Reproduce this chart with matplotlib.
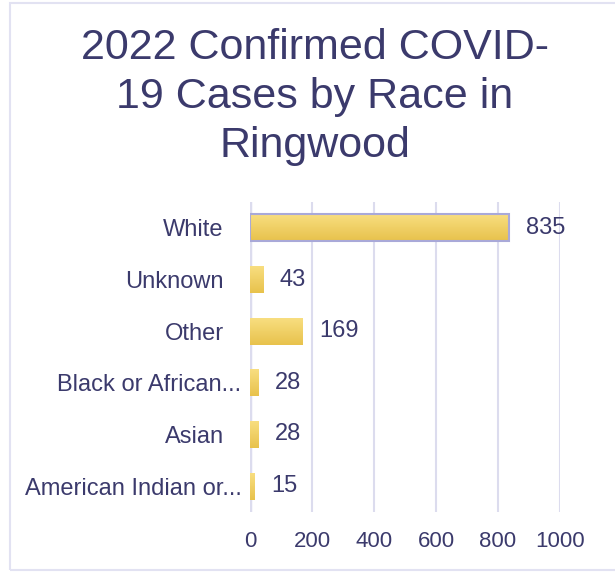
import numpy as np
import matplotlib.pyplot as plt
import matplotlib.transforms as mtransforms
from matplotlib.patches import Rectangle
from matplotlib.colors import LinearSegmentedColormap

races = ['White', 'Unknown', 'Other', 'Black or African...', 'Asian', 'American Indian or...']
cases = [835, 43, 169, 28, 28, 15]
x_ticks = [0, 200, 400, 600, 800, 1000]

text_color = '#3b3a6c'
grid_color = '#dcdcee'

plt.rcParams['font.family'] = ['Liberation Sans', 'DejaVu Sans']

fig = plt.figure(figsize=(6.15, 5.74), dpi=100)
ax = fig.add_axes([250 / 615, 62 / 574, 310 / 615, 310 / 574])

# Outer frame of the card
fig.patches.append(Rectangle((10 / 615, 4 / 574), 1.0, 567 / 574, transform=fig.transFigure,
                             fill=False, edgecolor='#e2e2f2', linewidth=1.5))

y = np.arange(len(races))
bars = ax.barh(y, cases, height=0.52, color='#f0cd5e', zorder=3)

# vertical gradient inside each bar
grad = np.linspace(0, 1, 64).reshape(-1, 1)
cmap = LinearSegmentedColormap.from_list('gold', ['#f8de80', '#e8c24c'])
for b in bars:
    x0, y0 = b.get_x(), b.get_y()
    w, h = b.get_width(), b.get_height()
    im = ax.imshow(grad, cmap=cmap, aspect='auto', extent=[x0, x0 + w, y0 + h, y0], zorder=4)
    im.set_clip_path(b)

# highlighted first bar outline
bars[0].set_edgecolor('#a9a9d8')
bars[0].set_linewidth(1.5)
bars[0].set_zorder(5)
bars[0].set_facecolor('none')

for yi, v in zip(y, cases):
    ax.annotate(str(v), (v, yi), xytext=(12, 0), textcoords='offset points',
                va='center', ha='left', fontsize=17, color=text_color)

ax.set_xlim(0, 1000)
ax.set_ylim(len(races) - 0.5, -0.5)
ax.set_xticks(x_ticks)
ax.set_xticklabels([str(t) for t in x_ticks], fontsize=16, color=text_color)
ax.set_yticks(y)
ax.set_yticklabels(races, fontsize=17, color=text_color)
ax.tick_params(axis='both', length=0)
ax.tick_params(axis='y', pad=19)
ax.tick_params(axis='x', pad=14)
ax.grid(axis='x', color=grid_color, linewidth=1.5, zorder=0)
for s in ax.spines.values():
    s.set_visible(False)
ax.axvline(0, color=grid_color, linewidth=2.5, zorder=2)

# truncated labels sit closer to the axis
shift = mtransforms.ScaledTranslation(18 / 100, 0, fig.dpi_scale_trans)
for lbl in ax.get_yticklabels():
    if lbl.get_text().endswith('...'):
        lbl.set_transform(lbl.get_transform() + shift)

fig.text(315 / 615, 1 - 97 / 574, '2022 Confirmed COVID-\n19 Cases by Race in\nRingwood',
         ha='center', va='center', fontsize=31, color=text_color, linespacing=1.3)

fig.savefig('out.png', dpi=100)
